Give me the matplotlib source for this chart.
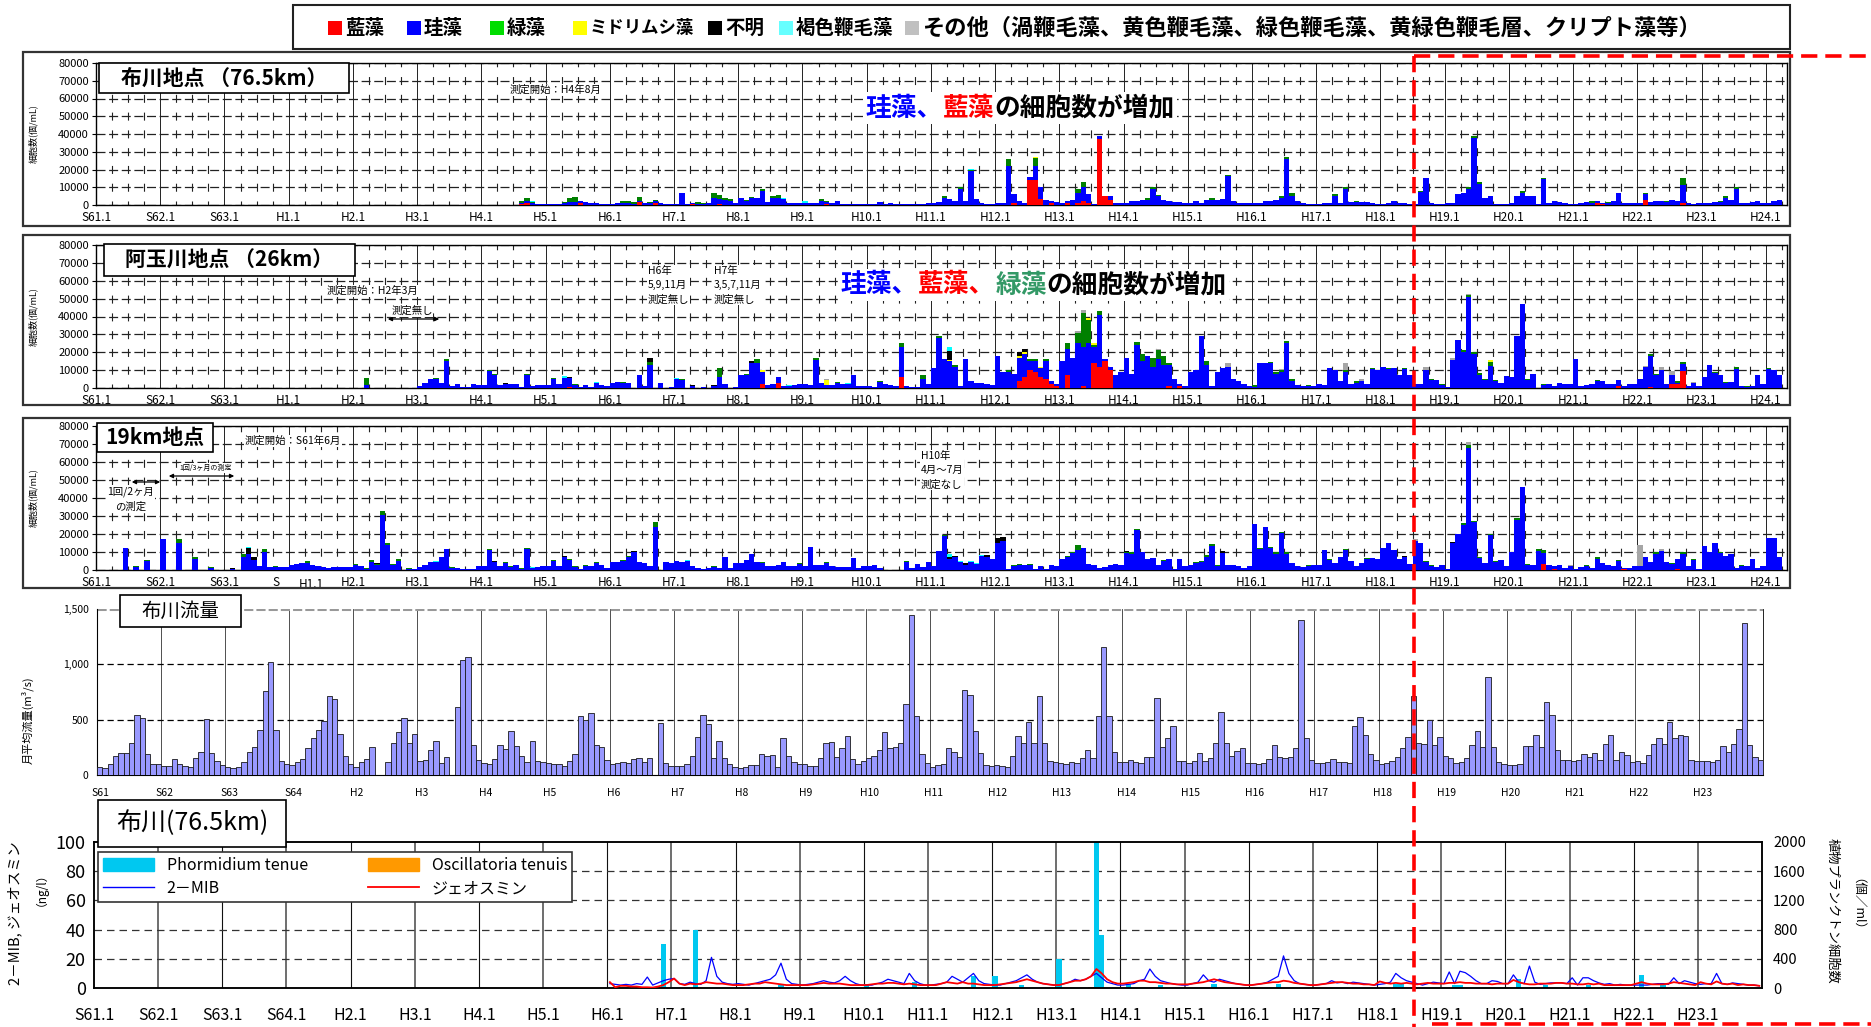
import numpy as np
import matplotlib
matplotlib.use('Agg')
import matplotlib.pyplot as plt
from matplotlib.patches import Rectangle, Patch, FancyArrowPatch
from matplotlib.lines import Line2D
from matplotlib.offsetbox import TextArea, HPacker, AnnotationBbox
from matplotlib.ticker import FuncFormatter

plt.rcParams['font.family'] = ['Noto Sans CJK JP', 'DejaVu Sans']
plt.rcParams['axes.unicode_minus'] = False

# ---------------- categories ----------------
cat_keys = ['r', 'b', 'g', 'y', 'k', 'c', 'o']
cat_names = ['藍藻', '珪藻', '緑藻', 'ミドリムシ藻', '不明', '褐色鞭毛藻',
             'その他（渦鞭毛藻、黄色鞭毛藻、緑色鞭毛藻、黄緑色鞭毛層、クリプト藻等）']
bar_colors = ['#ff0000', '#0000ff', '#008000', '#ffff00', '#000000', '#00ffff', '#a6a6a6']
legend_colors = ['#ff0000', '#0000ff', '#00dd00', '#ffff00', '#000000', '#66ffff', '#c0c0c0']

cell_ticklabels = ['S61.1', 'S62.1', 'S63.1', 'H1.1', 'H2.1', 'H3.1', 'H4.1', 'H5.1', 'H6.1',
                   'H7.1', 'H8.1', 'H9.1', 'H10.1', 'H11.1', 'H12.1', 'H13.1', 'H14.1', 'H15.1',
                   'H16.1', 'H17.1', 'H18.1', 'H19.1', 'H20.1', 'H21.1', 'H22.1', 'H23.1', 'H24.1']
flow_ticklabels = ['S61', 'S62', 'S63', 'S64', 'H2', 'H3', 'H4', 'H5', 'H6', 'H7', 'H8', 'H9',
                   'H10', 'H11', 'H12', 'H13', 'H14', 'H15', 'H16', 'H17', 'H18', 'H19', 'H20',
                   'H21', 'H22', 'H23']
odor_ticklabels = ['S61.1', 'S62.1', 'S63.1', 'S64.1', 'H2.1', 'H3.1', 'H4.1', 'H5.1', 'H6.1',
                   'H7.1', 'H8.1', 'H9.1', 'H10.1', 'H11.1', 'H12.1', 'H13.1', 'H14.1', 'H15.1',
                   'H16.1', 'H17.1', 'H18.1', 'H19.1', 'H20.1', 'H21.1', 'H22.1', 'H23.1']

# ---------------- 布川地点 (76.5km): diatom per month, 1000 cells/mL ----------------
p1_first = 1992
p1_diatom = [
    [0, 0, 0, 0, 0, 0, 0, 0.5, 1.2, 1.0, 0.5, 0.3],
    [0.5, 0.5, 0.5, 1.0, 1.5, 1.5, 1.0, 1.5, 1.3, 1.3, 0.8, 0.5],
    [0.3, 1.0, 1.0, 1.0, 0.5, 1.0, 1.0, 1.0, 1.0, 1.0, 0.5, 0.5],
    [0.5, 7.0, 0.5, 0.5, 0.5, 0.5, 1.0, 4.0, 3.0, 3.0, 2.5, 1.0],
    [4.0, 2.0, 4.0, 4.0, 8.0, 1.5, 4.0, 4.0, 3.5, 1.0, 1.0, 1.0],
    [1.0, 1.0, 1.0, 2.5, 1.0, 1.0, 2.0, 0.5, 0.5, 0.5, 0.3, 0.5],
    [0.3, 0.5, 1.5, 0.5, 1.0, 0.5, 0.5, 0.3, 0.5, 0.3, 0.5, 1.0],
    [1.0, 1.5, 4.0, 3.5, 2.0, 9.0, 2.0, 19.0, 3.5, 1.0, 0.5, 0.5],
    [1.0, 1.0, 22.0, 5.0, 2.0, 1.0, 2.0, 8.0, 6.5, 3.0, 1.0, 1.5],
    [1.0, 1.0, 3.0, 6.0, 8.0, 5.0, 0.5, 2.0, 0.3, 2.0, 1.0, 1.0],
    [1.0, 2.0, 2.0, 3.0, 3.0, 9.0, 5.0, 3.0, 2.0, 1.5, 1.5, 1.0],
    [1.0, 2.0, 1.0, 3.0, 3.0, 3.0, 3.5, 16.5, 2.0, 1.0, 1.0, 1.0],
    [1.0, 1.0, 2.0, 2.5, 3.0, 4.0, 26.0, 5.0, 2.0, 1.0, 0.5, 0.5],
    [0.5, 1.0, 1.0, 5.0, 1.0, 9.0, 1.5, 1.5, 1.5, 1.5, 1.0, 0.5],
    [0.5, 1.0, 2.0, 1.0, 1.0, 0.5, 0.5, 7.5, 15.0, 1.0, 0.5, 0.5],
    [1.0, 1.0, 6.0, 6.5, 9.0, 37.5, 12.0, 4.0, 5.0, 0.5, 0.5, 0.5],
    [1.0, 5.0, 7.0, 5.0, 5.0, 0.5, 14.5, 1.0, 2.0, 1.5, 1.0, 0.5],
    [0.5, 1.0, 1.5, 1.0, 1.0, 0.5, 1.0, 2.0, 7.0, 1.0, 1.0, 1.0],
    [1.0, 3.0, 1.5, 2.0, 2.0, 1.5, 3.0, 2.0, 10.0, 1.0, 0.5, 1.0],
    [1.0, 1.0, 1.5, 1.5, 4.0, 3.0, 9.0, 1.0, 1.0, 1.5, 2.0, 1.0],
    [1.0, 2.0, 3.0],
]
p1_extra = [
    ('g', 1992, 8, 1.0), ('g', 1992, 9, 1.5), ('g', 1992, 10, 0.5), ('r', 1992, 8, 0.5), ('r', 1992, 9, 1.0),
    ('c', 1992, 9, 0.3), ('c', 1992, 10, 0.5),
    ('g', 1993, 4, 0.5), ('g', 1993, 5, 2.5), ('g', 1993, 6, 3.0), ('g', 1993, 7, 0.5), ('r', 1993, 7, 1.0),
    ('g', 1994, 3, 1.5), ('g', 1994, 4, 1.5), ('g', 1994, 5, 1.0), ('g', 1994, 6, 2.0), ('g', 1994, 8, 0.5),
    ('g', 1994, 9, 1.0), ('r', 1994, 6, 1.5), ('r', 1994, 9, 1.0),
    ('g', 1995, 5, 1.0), ('g', 1995, 6, 0.5), ('g', 1995, 8, 3.0), ('g', 1995, 9, 2.0), ('g', 1995, 10, 1.0),
    ('g', 1995, 11, 1.0), ('r', 1995, 4, 0.5), ('r', 1995, 9, 0.5),
    ('g', 1996, 2, 1.0), ('g', 1996, 3, 0.5), ('g', 1996, 5, 1.0), ('g', 1996, 7, 1.0), ('g', 1996, 8, 1.5),
    ('c', 1996, 9, 0.5),
    ('g', 1997, 4, 1.0), ('g', 1997, 5, 1.0), ('r', 1997, 5, 0.5), ('c', 1997, 1, 1.0),
    ('g', 1999, 3, 1.0), ('g', 1999, 6, 1.0), ('g', 1999, 8, 1.0), ('c', 1999, 8, 0.5),
    ('g', 2000, 3, 4.0), ('g', 2000, 8, 4.5), ('r', 2000, 4, 1.0), ('r', 2000, 7, 14.0), ('r', 2000, 8, 14.0),
    ('r', 2000, 9, 3.5), ('r', 2000, 11, 1.0), ('y', 2000, 8, 0.5),
    ('g', 2001, 4, 2.0), ('g', 2001, 5, 3.0), ('r', 2001, 2, 1.0), ('r', 2001, 4, 1.0), ('r', 2001, 5, 2.0),
    ('r', 2001, 6, 1.0), ('r', 2001, 8, 37.0), ('r', 2001, 9, 5.0), ('r', 2001, 10, 3.0),
    ('g', 2002, 5, 1.0), ('g', 2002, 6, 1.0), ('g', 2002, 7, 0.5),
    ('g', 2003, 5, 1.0), ('g', 2003, 8, 0.5),
    ('g', 2004, 6, 1.0), ('g', 2004, 7, 1.0), ('g', 2004, 8, 1.5),
    ('g', 2005, 4, 1.0), ('g', 2005, 6, 1.0), ('g', 2005, 8, 0.5),
    ('g', 2006, 3, 0.5), ('g', 2006, 8, 0.5),
    ('g', 2007, 4, 0.5), ('g', 2007, 5, 1.0), ('g', 2007, 6, 1.5), ('g', 2007, 7, 1.0),
    ('g', 2008, 3, 1.0), ('g', 2008, 7, 0.5),
    ('g', 2009, 4, 1.0), ('g', 2009, 7, 0.5), ('r', 2009, 5, 1.0), ('r', 2009, 6, 0.5),
    ('g', 2010, 2, 1.0), ('g', 2010, 6, 0.5), ('g', 2010, 9, 4.0), ('r', 2010, 2, 3.0), ('r', 2010, 9, 1.0),
    ('g', 2011, 4, 0.5), ('g', 2011, 5, 1.0), ('g', 2011, 7, 1.0),
]

# ---------------- 阿玉川地点 (26km) ----------------
p2_first = 1990
p2_diatom = [
    [0, 0, 1.5, 0, 0, 0, 0, 0, 0, 0, 0, 0],
    [1.0, 3.0, 5.0, 5.0, 3.0, 15.0, 1.0, 2.5, 0.3, 0.3, 2.5, 1.5],
    [1.5, 9.5, 7.0, 1.5, 2.5, 2.5, 2.0, 0.5, 7.5, 1.0, 1.5, 1.5],
    [1.5, 5.0, 2.0, 5.5, 5.5, 1.5, 0.5, 1.5, 0.5, 3.0, 1.5, 1.0],
    [3.0, 3.5, 3.0, 3.0, 0, 7.0, 1.0, 13.0, 0, 3.0, 0, 0.5],
    [5.0, 4.5, 0, 1.0, 0, 0.5, 0, 1.0, 6.0, 2.0, 0, 0.3],
    [7.0, 7.0, 14.0, 14.0, 7.0, 1.5, 2.5, 3.0, 1.0, 1.0, 1.5, 2.0],
    [2.0, 1.5, 15.5, 3.0, 1.5, 1.5, 3.0, 2.0, 2.5, 7.0, 1.0, 1.0],
    [1.0, 0.5, 3.5, 2.0, 1.5, 1.0, 17.0, 1.0, 0.5, 0.5, 5.0, 2.0],
    [11.0, 28.0, 16.0, 15.0, 12.0, 1.0, 16.0, 4.0, 3.0, 3.0, 2.0, 1.5],
    [18.0, 9.0, 9.0, 8.0, 13.0, 13.0, 5.0, 6.0, 5.0, 10.0, 2.0, 1.0],
    [15.0, 15.0, 17.0, 25.0, 22.0, 25.0, 9.0, 29.0, 1.0, 2.0, 7.0, 9.0],
    [17.0, 8.0, 24.0, 15.0, 18.0, 12.0, 16.0, 13.0, 12.0, 5.0, 1.0, 1.0],
    [9.0, 10.0, 29.0, 13.0, 1.0, 9.0, 11.0, 12.0, 5.0, 4.0, 2.0, 1.0],
    [0.5, 14.0, 14.0, 14.0, 8.0, 9.0, 25.0, 4.0, 1.5, 1.0, 1.0, 1.0],
    [2.0, 1.5, 11.0, 10.0, 4.0, 9.0, 2.0, 3.0, 4.0, 2.5, 10.5, 10.0],
    [12.0, 10.5, 11.0, 7.0, 10.5, 7.0, 2.0, 2.5, 10.0, 4.7, 4.5, 1.5],
    [0.5, 15.5, 27.0, 20.0, 51.0, 19.0, 7.0, 4.5, 12.5, 4.0, 3.0, 6.5],
    [6.0, 29.0, 47.0, 4.5, 8.0, 0, 1.5, 2.0, 1.0, 3.0, 2.0, 2.0],
    [16.0, 1.0, 1.5, 2.5, 4.0, 4.0, 2.5, 2.5, 3.5, 1.0, 2.0, 2.0],
    [5.0, 12.0, 17.5, 7.5, 10.0, 2.2, 5.0, 1.0, 4.0, 1.0, 3.0, 1.0],
    [6.0, 13.0, 8.5, 7.5, 3.0, 3.5, 10.5, 1.0, 0.7, 1.0, 7.0, 2.0],
    [10.5, 10.0, 7.5],
]
p2_extra = [
    ('g', 1990, 3, 4.0),
    ('g', 1991, 4, 0.5), ('g', 1991, 6, 1.5),
    ('g', 1992, 2, 0.5), ('g', 1992, 3, 1.0), ('g', 1992, 9, 0.5), ('k', 1992, 5, 0.5),
    ('g', 1993, 2, 0.5), ('g', 1993, 6, 0.5), ('c', 1993, 4, 1.0), ('c', 1993, 10, 0.5), ('k', 1993, 5, 0.3),
    ('r', 1993, 5, 0.3),
    ('g', 1994, 3, 0.5), ('g', 1994, 6, 0.5), ('g', 1994, 8, 1.5), ('k', 1994, 8, 2.5),
    ('c', 1995, 1, 0.5), ('g', 1995, 2, 0.5), ('g', 1995, 9, 5.0), ('k', 1995, 4, 0.5), ('k', 1995, 8, 0.5),
    ('g', 1996, 2, 1.0), ('g', 1996, 4, 2.0), ('k', 1996, 3, 1.0), ('r', 1996, 5, 2.0), ('r', 1996, 8, 3.0),
    ('y', 1996, 5, 1.0), ('c', 1996, 10, 0.5),
    ('g', 1997, 3, 1.5), ('g', 1997, 7, 0.5), ('y', 1997, 5, 3.0), ('o', 1997, 5, 0.5), ('c', 1997, 9, 0.5),
    ('g', 1998, 3, 0.5), ('g', 1998, 7, 2.0), ('g', 1998, 11, 2.0), ('r', 1998, 7, 6.0),
    ('g', 1999, 2, 1.0), ('g', 1999, 5, 1.0), ('k', 1999, 4, 5.0), ('c', 1999, 4, 2.5), ('y', 1999, 4, 0.5),
    ('g', 2000, 3, 1.0), ('g', 2000, 7, 1.0), ('g', 2000, 8, 1.0), ('g', 2000, 10, 1.0),
    ('r', 2000, 5, 4.0), ('r', 2000, 6, 6.0), ('r', 2000, 7, 10.0), ('r', 2000, 8, 9.0), ('r', 2000, 9, 6.0),
    ('r', 2000, 10, 5.0), ('r', 2000, 11, 2.0), ('r', 2000, 12, 1.0),
    ('k', 2000, 5, 2.0), ('k', 2000, 6, 2.0), ('y', 2000, 5, 1.0), ('y', 2000, 6, 1.0), ('y', 2000, 9, 1.0),
    ('g', 2001, 2, 3.0), ('g', 2001, 4, 6.0), ('g', 2001, 5, 19.0), ('g', 2001, 6, 13.0), ('g', 2001, 7, 1.0),
    ('g', 2001, 8, 2.0), ('r', 2001, 2, 7.0), ('r', 2001, 5, 1.0), ('r', 2001, 7, 14.0), ('r', 2001, 8, 12.0),
    ('r', 2001, 9, 15.0), ('r', 2001, 10, 10.0), ('o', 2001, 4, 1.0), ('o', 2001, 5, 1.5),
    ('y', 2001, 6, 1.0), ('y', 2001, 7, 1.0),
    ('g', 2002, 3, 2.0), ('g', 2002, 4, 4.0), ('g', 2002, 6, 5.0), ('g', 2002, 7, 5.0), ('g', 2002, 8, 5.0),
    ('g', 2002, 9, 1.0), ('o', 2002, 7, 1.0), ('r', 2002, 9, 1.0), ('r', 2002, 11, 1.0),
    ('g', 2003, 4, 2.0), ('o', 2003, 8, 2.0),
    ('g', 2004, 1, 1.0), ('g', 2004, 4, 0.3), ('g', 2004, 5, 1.0), ('g', 2004, 6, 1.0), ('g', 2004, 7, 1.5),
    ('g', 2004, 8, 1.0), ('g', 2004, 11, 0.5), ('o', 2004, 6, 0.5),
    ('g', 2005, 1, 0.3), ('g', 2005, 6, 1.0), ('g', 2005, 8, 1.0), ('g', 2005, 11, 0.5), ('o', 2005, 6, 4.0),
    ('o', 2005, 9, 1.0),
    ('g', 2006, 2, 0.5), ('g', 2006, 5, 0.5), ('g', 2006, 10, 0.3), ('g', 2006, 12, 0.5), ('o', 2006, 9, 1.5),
    ('o', 2007, 2, 1.5), ('o', 2007, 5, 0.5), ('g', 2007, 4, 1.5), ('g', 2007, 5, 1.0), ('g', 2007, 6, 1.0),
    ('g', 2007, 7, 1.5), ('g', 2007, 8, 0.5), ('g', 2007, 9, 2.0), ('g', 2007, 10, 0.5), ('y', 2007, 9, 1.0),
    ('g', 2008, 4, 0.5), ('g', 2008, 7, 0.5), ('g', 2008, 8, 0.5), ('g', 2008, 12, 0.5),
    ('g', 2009, 5, 0.5), ('r', 2009, 9, 1.0),
    ('o', 2010, 2, 0.5), ('o', 2010, 5, 1.5), ('o', 2010, 7, 2.0), ('o', 2010, 11, 0.5),
    ('g', 2010, 3, 1.0), ('g', 2010, 4, 0.5), ('g', 2010, 6, 0.3), ('g', 2010, 7, 0.5), ('g', 2010, 8, 1.0),
    ('g', 2010, 9, 1.0), ('r', 2010, 3, 0.3), ('r', 2010, 7, 2.0), ('r', 2010, 8, 2.0), ('r', 2010, 9, 9.5),
    ('g', 2011, 3, 0.5), ('g', 2011, 5, 0.5), ('g', 2011, 7, 1.0), ('g', 2011, 9, 0.3),
    ('g', 2012, 1, 0.5),
]

# ---------------- 19km地点 ----------------
p3_first = 1986
p3_diatom = [
    [0, 0, 0, 0, 0, 12.0, 0, 1.5, 0, 5.0, 0, 0],
    [17.0, 0, 0, 15.0, 0, 0, 6.0, 0, 0, 1.3, 0, 0],
    [0, 0.5, 0, 7.0, 9.0, 5.5, 2.0, 10.0, 1.5, 1.5, 1.5, 1.5],
    [3.0, 3.5, 4.0, 4.0, 3.0, 2.5, 1.5, 1.0, 1.5, 1.5, 1.5, 1.5],
    [3.0, 2.5, 0.5, 4.5, 3.0, 30.5, 14.0, 3.0, 5.0, 0.2, 0.7, 0.5],
    [1.5, 3.0, 4.5, 4.5, 7.0, 11.5, 1.2, 1.0, 0.5, 0.3, 0.3, 2.0],
    [2.0, 11.0, 4.5, 2.5, 4.0, 1.7, 2.7, 0.7, 11.5, 1.2, 1.5, 2.0],
    [2.5, 5.0, 2.0, 7.5, 5.5, 1.5, 0.5, 2.5, 2.0, 4.0, 3.0, 1.0],
    [4.5, 4.5, 5.0, 7.5, 10.0, 4.2, 4.0, 2.0, 24.0, 0, 4.5, 4.0],
    [5.0, 4.2, 5.0, 2.5, 1.0, 0.8, 1.0, 1.5, 1.0, 7.0, 1.0, 4.0],
    [3.7, 5.5, 9.0, 4.5, 4.0, 2.5, 2.0, 3.0, 4.2, 2.0, 2.0, 3.5],
    [2.5, 13.0, 3.0, 3.0, 4.0, 2.5, 1.5, 1.5, 1.5, 6.5, 1.0, 2.0],
    [2.5, 3.0, 1.0, 0, 0, 0, 0, 4.5, 1.0, 3.5, 1.5, 4.5],
    [2.0, 10.5, 19.0, 6.0, 7.0, 4.5, 3.0, 4.5, 3.5, 8.0, 7.5, 6.0],
    [15.0, 16.0, 0.5, 2.5, 3.0, 3.0, 3.0, 0.5, 2.5, 0.5, 3.0, 2.0],
    [6.0, 7.5, 9.5, 11.0, 12.0, 3.5, 3.0, 1.0, 1.5, 3.0, 3.5, 3.0],
    [9.5, 9.0, 22.0, 10.0, 6.0, 6.5, 3.0, 5.0, 6.0, 0.5, 6.0, 2.0],
    [3.0, 4.0, 4.5, 7.5, 13.5, 2.5, 9.5, 3.0, 3.0, 2.5, 1.0, 2.0],
    [25.5, 11.5, 24.0, 12.0, 9.0, 20.5, 9.0, 4.0, 2.0, 1.5, 2.5, 3.0],
    [3.0, 11.0, 5.5, 4.0, 7.5, 11.0, 5.0, 2.5, 4.0, 6.0, 6.5, 6.0],
    [12.5, 15.0, 11.0, 6.0, 7.5, 3.2, 16.0, 15.0, 4.5, 2.5, 1.5, 3.0],
    [0.5, 15.0, 20.0, 25.0, 68.0, 26.5, 6.5, 4.0, 19.5, 4.5, 5.5, 2.0],
    [10.0, 28.0, 46.0, 3.0, 3.0, 10.5, 6.0, 3.0, 2.0, 3.0, 1.0, 2.0],
    [0.5, 1.5, 2.5, 1.0, 6.0, 4.0, 3.0, 2.0, 5.0, 0.7, 1.0, 2.0],
    [2.0, 7.0, 4.5, 9.0, 10.5, 4.5, 3.5, 5.5, 9.0, 2.5, 5.5, 0.5],
    [13.5, 10.0, 15.0, 9.5, 8.0, 9.0, 1.0, 2.5, 2.5, 6.0, 1.0, 2.0],
    [18.0, 18.0, 7.0],
]
p3_extra = [
    ('c', 1986, 6, 0.5), ('g', 1986, 8, 1.0), ('g', 1986, 10, 0.5),
    ('k', 1987, 1, 0.5), ('g', 1987, 4, 2.0), ('g', 1987, 7, 1.5), ('g', 1987, 10, 0.2),
    ('k', 1988, 2, 0.5), ('k', 1988, 5, 3.5), ('k', 1988, 6, 1.5), ('g', 1988, 4, 2.0), ('g', 1988, 7, 0.5),
    ('g', 1988, 8, 1.5), ('g', 1988, 10, 0.5), ('c', 1988, 5, 0.5),
    ('g', 1989, 4, 1.0),
    ('g', 1990, 1, 0.5), ('g', 1990, 3, 0.5), ('g', 1990, 4, 1.0), ('g', 1990, 5, 0.5), ('g', 1990, 6, 2.5),
    ('g', 1990, 7, 1.0), ('g', 1990, 8, 0.5), ('g', 1990, 9, 1.0), ('g', 1990, 11, 0.3), ('k', 1990, 5, 0.5),
    ('c', 1991, 4, 0.5), ('g', 1991, 5, 0.5), ('g', 1991, 7, 0.3), ('k', 1991, 12, 0.5),
    ('g', 1992, 2, 0.5), ('g', 1992, 5, 0.5), ('g', 1992, 6, 0.3), ('g', 1992, 8, 0.3), ('g', 1992, 9, 0.5),
    ('k', 1992, 3, 0.5), ('c', 1992, 7, 0.3), ('c', 1992, 10, 0.3),
    ('g', 1993, 2, 0.5), ('g', 1993, 5, 0.5), ('g', 1993, 6, 0.5), ('g', 1993, 8, 0.5), ('g', 1993, 10, 0.5),
    ('k', 1993, 4, 0.5),
    ('g', 1994, 3, 0.5), ('g', 1994, 4, 0.5), ('g', 1994, 6, 0.3), ('g', 1994, 9, 2.5), ('k', 1994, 5, 0.5),
    ('c', 1994, 8, 0.5),
    ('c', 1995, 2, 0.3), ('c', 1995, 3, 0.5), ('g', 1995, 8, 0.5), ('g', 1995, 10, 0.5),
    ('c', 1996, 1, 0.3), ('c', 1996, 9, 0.3), ('g', 1996, 5, 0.5), ('g', 1996, 7, 0.5), ('g', 1996, 12, 0.5),
    ('g', 1997, 5, 0.5),
    ('g', 1998, 8, 0.5),
    ('g', 1999, 3, 0.5), ('k', 1999, 4, 1.0), ('k', 1999, 5, 1.0), ('k', 1999, 7, 1.0), ('k', 1999, 11, 1.0),
    ('c', 1999, 4, 2.0), ('c', 1999, 6, 0.5), ('c', 1999, 8, 0.5), ('c', 1999, 9, 0.5), ('c', 1999, 10, 0.5),
    ('k', 2000, 1, 3.0), ('k', 2000, 2, 2.5), ('g', 2000, 4, 0.5), ('g', 2000, 5, 0.5), ('g', 2000, 7, 0.5),
    ('g', 2001, 2, 0.5), ('g', 2001, 3, 0.5), ('g', 2001, 4, 3.0),
    ('g', 2002, 1, 0.5), ('g', 2002, 2, 1.0), ('g', 2002, 3, 1.0), ('g', 2002, 8, 0.5), ('k', 2002, 1, 0.5),
    ('g', 2003, 2, 0.5), ('g', 2003, 3, 0.5), ('g', 2003, 4, 1.0), ('g', 2003, 5, 1.0), ('g', 2003, 6, 0.5),
    ('k', 2003, 7, 1.0),
    ('g', 2004, 2, 0.5), ('g', 2004, 4, 1.0), ('g', 2004, 5, 1.0), ('g', 2004, 6, 0.5), ('g', 2004, 7, 1.0),
    ('g', 2004, 11, 0.5),
    ('g', 2005, 3, 0.5), ('g', 2005, 6, 0.5), ('g', 2005, 10, 0.5),
    ('k', 2006, 5, 0.5), ('k', 2006, 6, 0.3), ('o', 2006, 7, 1.5), ('g', 2006, 9, 0.5), ('g', 2006, 10, 0.5),
    ('k', 2007, 2, 0.5), ('g', 2007, 4, 1.0), ('g', 2007, 5, 1.5), ('g', 2007, 6, 1.0), ('g', 2007, 7, 0.5),
    ('g', 2007, 9, 0.5), ('g', 2007, 10, 0.5), ('o', 2007, 5, 1.5),
    ('g', 2008, 2, 1.0), ('g', 2008, 4, 0.5), ('g', 2008, 6, 1.0), ('g', 2008, 7, 1.5), ('r', 2008, 7, 3.5),
    ('r', 2008, 9, 0.5), ('o', 2008, 12, 1.0),
    ('g', 2009, 3, 0.5), ('g', 2009, 5, 1.0), ('g', 2009, 9, 0.5), ('r', 2009, 10, 0.3),
    ('o', 2010, 1, 12.0), ('o', 2010, 5, 1.0), ('g', 2010, 4, 1.0), ('g', 2010, 7, 0.5), ('g', 2010, 9, 1.0),
    ('g', 2010, 11, 0.5), ('r', 2010, 8, 0.5),
    ('g', 2011, 4, 0.5), ('g', 2011, 8, 0.5),
]

# ---------------- 布川流量 monthly mean flow (m3/s), S61(1986)~H23(2011) ----------------
flow_first = 1986
flow = [
    [70, 65, 100, 170, 200, 195, 290, 540, 515, 190, 100, 95],
    [80, 80, 145, 100, 85, 75, 150, 210, 510, 195, 130, 90],
    [75, 65, 75, 120, 210, 255, 405, 760, 1025, 405, 130, 100],
    [90, 120, 145, 245, 330, 410, 490, 710, 690, 375, 170, 100],
    [75, 120, 145, 255, 0, 0, 120, 285, 385, 515, 285, 370],
    [125, 135, 230, 310, 110, 160, 0, 615, 1040, 1065, 270, 135],
    [110, 100, 145, 270, 235, 400, 265, 170, 120, 310, 130, 120],
    [105, 100, 100, 80, 125, 190, 535, 500, 560, 270, 255, 135],
    [100, 110, 120, 110, 145, 150, 120, 150, 0, 470, 110, 85],
    [85, 80, 100, 175, 340, 540, 460, 150, 310, 150, 100, 75],
    [65, 70, 90, 90, 190, 170, 185, 75, 330, 175, 120, 100],
    [95, 85, 85, 150, 290, 300, 160, 240, 350, 145, 100, 130],
    [155, 170, 230, 390, 240, 250, 290, 640, 1450, 530, 190, 110],
    [75, 90, 100, 240, 205, 160, 770, 720, 400, 200, 90, 80],
    [90, 80, 75, 175, 350, 290, 480, 290, 710, 290, 130, 120],
    [110, 100, 120, 110, 150, 230, 150, 530, 1160, 530, 210, 115],
    [120, 140, 120, 110, 160, 160, 700, 250, 330, 440, 130, 130],
    [110, 125, 195, 130, 150, 285, 565, 290, 170, 215, 240, 110],
    [110, 100, 105, 145, 270, 160, 150, 160, 240, 1400, 330, 140],
    [110, 110, 120, 145, 115, 120, 110, 440, 520, 360, 190, 140],
    [95, 110, 125, 160, 240, 345, 715, 290, 280, 500, 270, 340],
    [175, 150, 110, 120, 150, 270, 400, 250, 890, 250, 120, 100],
    [90, 90, 100, 260, 260, 360, 250, 660, 540, 230, 140, 140],
    [130, 140, 190, 160, 200, 140, 280, 365, 140, 210, 180, 115],
    [130, 110, 180, 280, 330, 280, 480, 330, 360, 350, 140, 130],
    [125, 125, 120, 140, 260, 210, 280, 420, 1370, 275, 160, 140],
]

# ---------------- 布川 (76.5km) 2-MIB / ジェオスミン (ng/l), H6(1994)~H23(2011) ----------------
odor_first = 1994
mib = [
    [3, 2.5, 2, 2.5, 2, 3, 2.5, 7.5, 2, 3.5, 5, 6],
    [6.5, 3, 2.5, 4, 3, 2.5, 5, 21, 8, 4, 3, 2.5],
    [3, 2.5, 2, 3, 4, 5, 6, 9, 17, 6, 3, 2.5],
    [2, 2.5, 3, 4, 5, 4, 3.5, 5, 8, 5, 3, 2],
    [2, 2, 3, 4, 6, 5, 4, 3, 10, 5, 3, 2],
    [2, 2.5, 3, 4, 8, 6, 4, 7, 10, 5, 3, 2.5],
    [2, 2, 3, 4, 5, 7, 9, 6, 4, 3, 2.5, 2],
    [2, 3, 4, 6, 5, 6, 8, 10, 7, 4, 3, 2],
    [2, 2.5, 3, 5, 6, 13, 8, 5, 4, 3, 2.5, 2],
    [2, 3, 4, 9, 5, 4, 6, 5, 4, 3, 2.5, 2],
    [2, 2.5, 3, 4, 6, 8, 22, 10, 5, 3, 2.5, 2],
    [2, 2.5, 3, 5, 3.5, 4, 3, 4, 3.5, 3, 2.5, 2],
    [2.5, 3, 4, 10, 7, 5, 4, 3, 2, 3, 4, 3.5],
    [3, 11, 3, 11.5, 10.5, 8, 5, 3, 3, 5, 4.5, 3],
    [3, 9, 4, 3, 15, 4, 2.5, 3, 3.5, 3.5, 3.5, 3],
    [7, 2, 7, 7, 5, 3.5, 2.5, 3, 2, 2.5, 2, 2],
    [2, 2, 2, 2.5, 3, 3, 2.5, 7, 3, 5, 4, 3],
    [2.5, 3, 3, 10, 3, 2.5, 3.5, 3, 2.5, 2, 2, 1.5],
]
geosmin = [
    [4, 0.5, 1.5, 1.5, 1, 1, 0.5, 0.5, 0.3, 1, 2, 4],
    [6.5, 3, 2, 3, 2.5, 3, 4, 3.5, 3, 3, 2.5, 2],
    [2, 2, 2.5, 3, 3, 4, 3.5, 3, 2.5, 2, 2, 2],
    [2, 2, 2.5, 3, 3.5, 3, 3, 3, 2.5, 2, 2, 2],
    [2, 2.5, 3, 3, 3.5, 3.5, 3, 2.5, 3, 2.5, 2, 2],
    [2, 2, 3, 4, 3.5, 3, 4, 3, 3, 2.5, 2, 2],
    [2, 2.5, 3, 3.5, 4, 5, 6, 5, 4, 3, 2.5, 2],
    [2, 3, 4, 5, 5, 6, 8, 13, 10, 6, 4, 3],
    [3, 3.5, 4, 5, 5, 4, 4, 3.5, 3, 3, 2.5, 2.5],
    [2.5, 3, 3.5, 4, 5, 6, 5, 4, 3.5, 3, 2.5, 2],
    [2, 2.5, 3, 3.5, 4, 4, 5, 4.5, 3.5, 3, 2.5, 2],
    [2, 2.5, 3, 3.5, 4, 4, 3.5, 3, 3, 2.5, 2.5, 2],
    [4.5, 3.5, 3, 3.5, 3, 3.5, 3, 2.5, 3, 3.5, 3, 3],
    [3, 3.5, 3.5, 4, 3.5, 3.5, 3, 3, 3, 2.5, 3, 3],
    [3, 5.5, 4, 3, 2.5, 2.5, 3, 3, 3, 3.5, 3.5, 3],
    [3, 2.5, 2.5, 3, 2.5, 3, 2, 2, 2, 2, 2, 2],
    [3, 4, 3, 2.5, 2.5, 2.5, 3, 4, 3.5, 3, 2.5, 2],
    [4, 3, 2.5, 4.5, 3, 2.5, 3, 2, 2.5, 2, 2, 1.5],
]
# plankton cells (/ml): (year, month, value)
phormidium = [(1994, 11, 600), (1995, 5, 800), (1996, 9, 40), (1998, 1, 60), (1998, 10, 80),
              (1999, 9, 160), (2000, 1, 160), (2000, 6, 40), (2001, 1, 400), (2001, 8, 2050),
              (2001, 9, 720), (2002, 2, 60), (2002, 8, 40), (2003, 6, 60), (2004, 6, 60),
              (2006, 4, 60), (2006, 5, 60), (2007, 3, 40), (2007, 4, 40), (2008, 3, 120),
              (2008, 8, 40), (2009, 4, 40), (2010, 2, 180), (2010, 6, 40)]
oscillatoria = [(1999, 8, 20), (2001, 7, 20)]

# ---------------- helpers ----------------
W, H = 1871, 1027
N = (2013 - 1986) * 12
mx = 1986 + np.arange(N) / 12.0


def fx(x):
    return x / W


def fy(y):
    return 1 - y / H


def fbox(x0, y0, x1, y1):
    return [fx(x0), fy(y1), (x1 - x0) / W, (y1 - y0) / H]


def to_monthly(first, rows):
    arr = np.zeros(N)
    for i, row in enumerate(rows):
        s = (first + i - 1986) * 12
        arr[s:s + len(row)] = row
    return arr


def draw_stack(ax, first, diatom, extra):
    layers = {k: np.zeros(N) for k in cat_keys}
    layers['b'] = to_monthly(first, diatom)
    for k, y, m, v in extra:
        layers[k][(y - 1986) * 12 + m - 1] += v
    bottom = np.zeros(N)
    for k, col in zip(cat_keys, bar_colors):
        v = layers[k] * 1000
        ax.bar(mx, v, width=1 / 12, bottom=bottom, align='edge', color=col, lw=0, zorder=3)
        bottom += v


fig = plt.figure(figsize=(W / 100, H / 100), dpi=100)


def box_text(x0, y0, x1, y1, s, size, weight='normal'):
    fig.add_artist(Rectangle((fx(x0), fy(y1)), (x1 - x0) / W, (y1 - y0) / H, transform=fig.transFigure,
                             fc='white', ec='black', lw=1.2, zorder=5))
    fig.text(fx((x0 + x1) / 2), fy((y0 + y1) / 2), s, ha='center', va='center', fontsize=size,
             weight=weight, zorder=6)


def colored_line(x, y, parts, size):
    areas = [TextArea(s, textprops=dict(color=c, fontsize=size, weight='bold')) for s, c in parts]
    pack = HPacker(children=areas, pad=0, sep=0)
    ab = AnnotationBbox(pack, (fx(x), fy(y)), xycoords='figure fraction', frameon=True,
                        box_alignment=(0.5, 0.5), pad=0.15, bboxprops=dict(fc='white', ec='none'))
    ab.set_zorder(6)
    fig.add_artist(ab)


def small(x, y, s, size=7.5, ha='center', va='center', ls=1.2):
    fig.text(fx(x), fy(y), s, ha=ha, va=va, fontsize=size, linespacing=ls, zorder=6,
             bbox=dict(fc='white', ec='none', pad=0.5))


def arrow(x0, x1, y):
    fig.add_artist(FancyArrowPatch((fx(x0), fy(y)), (fx(x1), fy(y)), transform=fig.transFigure,
                                   arrowstyle='<|-|>', mutation_scale=6, lw=0.9, color='black', zorder=6))


# ---------------- top legend ----------------
fig.add_artist(Rectangle((fx(293), fy(49)), (1790 - 293) / W, 44 / H, transform=fig.transFigure,
                         fc='white', ec='#222222', lw=1.5, zorder=4))
leg_x = [328, 407, 490, 573, 708, 779, 905]
leg_size = [14, 14, 14, 12.5, 14, 14, 16]
for xx, name, col, sz in zip(leg_x, cat_names, legend_colors, leg_size):
    fig.add_artist(Rectangle((fx(xx), fy(35)), 14 / W, 14 / H, transform=fig.transFigure,
                             fc=col, ec='none', zorder=5))
    fig.text(fx(xx + 17), fy(28), name, ha='left', va='center', fontsize=sz, weight='bold', zorder=5)

# ---------------- cell count panels ----------------
cell_specs = [
    ((96, 63, 1787, 205), (23, 52, 1790, 226), p1_first, p1_diatom, p1_extra),
    ((96, 245, 1787, 388), (23, 235, 1790, 405), p2_first, p2_diatom, p2_extra),
    ((96, 426, 1787, 570), (23, 418, 1790, 588), p3_first, p3_diatom, p3_extra),
]
cell_axes = []
years = np.arange(1986, 2013)
for (abox, obox, first, diatom, extra) in cell_specs:
    fig.add_artist(Rectangle((fx(obox[0]), fy(obox[3])), (obox[2] - obox[0]) / W, (obox[3] - obox[1]) / H,
                             transform=fig.transFigure, fill=False, ec='#333333', lw=1.6, zorder=1))
    ax = fig.add_axes(fbox(*abox))
    draw_stack(ax, first, diatom, extra)
    ax.set_xlim(1986, 2012.33)
    ax.set_ylim(0, 80000)
    ax.set_yticks(np.arange(0, 80001, 10000))
    ax.set_xticks(years)
    ax.set_xticklabels(cell_ticklabels)
    ax.set_xticks([y + q for y in years[:-1] for q in (0.25, 0.5, 0.75)] + [2012.25], minor=True)
    ax.grid(axis='x', which='major', color='#222222', lw=0.7, ls='-', zorder=1)
    ax.grid(axis='x', which='minor', color='#222222', lw=0.8, ls=(3.6, (7.2, 8.8)), zorder=1)
    ax.grid(axis='y', color='#222222', lw=0.9, ls=(0, (7.2, 2.9)), zorder=1)
    ax.set_axisbelow(True)
    ax.tick_params(axis='x', which='both', length=0, pad=4, labelsize=8.5)
    ax.tick_params(axis='y', labelsize=8, length=3, pad=2)
    for sp in ax.spines.values():
        sp.set_linewidth(1.0)
    fig.text(fx(33), fy((abox[1] + abox[3]) / 2), '細胞数(個/mL)', rotation=90, ha='center', va='center',
             fontsize=6.5)
    cell_axes.append(ax)

ax3 = cell_axes[2]
labs = list(cell_ticklabels)
labs[3] = ''
ax3.set_xticklabels(labs)
ax3.text(1988.8, -0.085, 'S', transform=ax3.get_xaxis_transform(), ha='center', va='center', fontsize=8.5)
ax3.text(1989.35, -0.1, 'H1.1', transform=ax3.get_xaxis_transform(), ha='center', va='center', fontsize=8.5)

box_text(99, 63, 349, 93, '布川地点 （76.5km）', 15, 'bold')
box_text(104, 244, 355, 276, '阿玉川地点 （26km）', 15, 'bold')
box_text(97, 423, 213, 452, '19km地点', 15, 'bold')

colored_line(1020, 108, [('珪藻、', '#0000ff'), ('藍藻', '#ff0000'), ('の細胞数が増加', 'black')], 18.5)
colored_line(1034, 285, [('珪藻、', '#0000ff'), ('藍藻、', '#ff0000'), ('緑藻', '#339966'),
                         ('の細胞数が増加', 'black')], 18.5)

small(556, 90, '測定開始：H4年8月')
small(372, 291, '測定開始：H2年3月')
small(412, 311, '測定無し')
arrow(385, 442, 319)
small(648, 266, 'H6年\n5,9,11月\n測定無し', ha='left', va='top', ls=1.5)
small(714, 266, 'H7年\n3,5,7,11月\n測定無し', ha='left', va='top', ls=1.5)
small(293, 441, '測定開始：S61年6月')
small(206, 468, '1回/3ヶ月の測定', size=5)
arrow(166, 237, 476)
arrow(129, 163, 482)
small(131, 499, '1回/2ヶ月\nの測定', ls=1.6)
small(921, 451, 'H10年\n4月～7月\n測定なし', ha='left', va='top', ls=1.5)

# ---------------- flow panel ----------------
ax4 = fig.add_axes(fbox(97, 609, 1763, 775))
fv = to_monthly(flow_first, flow)
keep = fv > 0
ax4.bar(mx[keep], fv[keep], width=1 / 12, align='edge', color='#9999ff', edgecolor='#1a1a1a', lw=0.6,
        zorder=3)
ax4.set_xlim(1986, 2012)
ax4.set_ylim(0, 1500)
ax4.set_yticks([0, 500, 1000, 1500])
ax4.yaxis.set_major_formatter(FuncFormatter(lambda v, p: '{:,}'.format(int(v))))
ax4.set_xticks(np.arange(1986, 2012) + 0.06)
ax4.set_xticklabels(flow_ticklabels)
for yy in range(1987, 2012):
    ax4.axvline(yy, color='#333333', lw=0.6, zorder=1)
for lv in (500, 1000):
    ax4.axhline(lv, color='black', lw=0.9, ls=(0, (5, 3)), zorder=1)
ax4.axhline(1500, color='#999999', lw=2.2, ls=(0, (3, 1)), zorder=1)
ax4.spines['top'].set_visible(False)
ax4.spines['right'].set_linewidth(0.6)
ax4.tick_params(axis='x', length=0, pad=9, labelsize=7.5)
ax4.tick_params(axis='y', length=0, pad=6, labelsize=7.5)
fig.text(fx(27), fy(720), '月平均流量(m³/s)', rotation=90, ha='center', va='center', fontsize=8)
box_text(120, 595, 241, 627, '布川流量', 14)

# ---------------- odor panel ----------------
ax5 = fig.add_axes(fbox(94, 842, 1762, 988))
axr = ax5.twinx()
for yy in range(1987, 2012):
    axr.axvline(yy, color='#555555' if yy % 2 else '#111111', lw=1.2 if yy % 2 else 0.8, zorder=1)
for lv in (400, 800, 1200, 1600):
    axr.axhline(lv, color='#333333', lw=0.9, ls=(0, (6, 4)), zorder=1)
px = np.array([y + (m - 1) / 12 for y, m, v in phormidium])
axr.bar(px, [v for y, m, v in phormidium], width=1 / 12, align='edge', color='#00c8f0', lw=0, zorder=2)
ox = np.array([y + (m - 1) / 12 for y, m, v in oscillatoria])
axr.bar(ox, [v for y, m, v in oscillatoria], width=1 / 12, align='edge', color='#ff9900', lw=0, zorder=2)
axr.set_ylim(0, 2000)
axr.set_yticks(np.arange(0, 2001, 400))
axr.tick_params(axis='y', labelsize=10.5, length=0, pad=8)

ox_line = odor_first + (np.arange(len(mib) * 12) + 0.5) / 12
ax5.plot(ox_line, np.concatenate(mib), color='#0000ff', lw=0.9, zorder=4)
ax5.plot(ox_line, np.concatenate(geosmin), color='#ff0000', lw=1.3, zorder=4)
ax5.set_zorder(axr.get_zorder() + 1)
ax5.patch.set_visible(False)
ax5.set_xlim(1986, 2012)
ax5.set_ylim(0, 100)
ax5.set_yticks(np.arange(0, 101, 20))
ax5.set_xticks(np.arange(1986, 2012))
ax5.set_xticklabels(odor_ticklabels)
ax5.tick_params(axis='x', length=0, pad=14, labelsize=11.5)
ax5.tick_params(axis='y', length=0, pad=6, labelsize=13)
for sp in list(ax5.spines.values()) + list(axr.spines.values()):
    sp.set_linewidth(1.1)

handles = [Patch(color='#00c8f0'), Line2D([], [], color='#0000ff', lw=1),
           Patch(color='#ff9900'), Line2D([], [], color='#ff0000', lw=1.3)]
labels = ['Phormidium tenue', '2－MIB', 'Oscillatoria tenuis', 'ジェオスミン']
leg = ax5.legend(handles, labels, ncol=2, loc='upper left', bbox_to_anchor=fbox(98, 852, 572, 898),
                 bbox_transform=fig.transFigure, mode='expand', fontsize=11.5, frameon=True,
                 fancybox=False, edgecolor='#333333', framealpha=1, handlelength=3.2,
                 handleheight=0.9, borderaxespad=0, borderpad=0.3, labelspacing=0.4, columnspacing=1.5)
leg.get_frame().set_linewidth(1.2)
leg.set_zorder(10)

fig.text(fx(15), fy(913), '2－MIB, ジェオスミン', rotation=90, ha='center', va='center', fontsize=10.5)
fig.text(fx(35), fy(883), '（ng/l）', rotation=90, ha='center', va='center', fontsize=8.5)
fig.text(fx(1832), fy(911), '植物プランクトン細胞数', rotation=270, ha='center', va='center', fontsize=9.5)
fig.text(fx(1851), fy(910), '（個／ml）', rotation=270, ha='center', va='center', fontsize=9)
box_text(98, 800, 286, 847, '布川(76.5km)', 18)

# ---------------- red dashed divider ----------------
red_kw = dict(color='#ff0000', lw=2.6, ls=(0, (4.5, 2.2)), transform=fig.transFigure, zorder=20)
fig.add_artist(Line2D([fx(1414), fx(1414)], [fy(56), fy(1027)], **red_kw))
fig.add_artist(Line2D([fx(1414), fx(1871)], [fy(56), fy(56)], **red_kw))
fig.add_artist(Line2D([fx(1432), fx(1871)], [fy(1024), fy(1024)], **red_kw))

fig.savefig('out.png', dpi=100)
